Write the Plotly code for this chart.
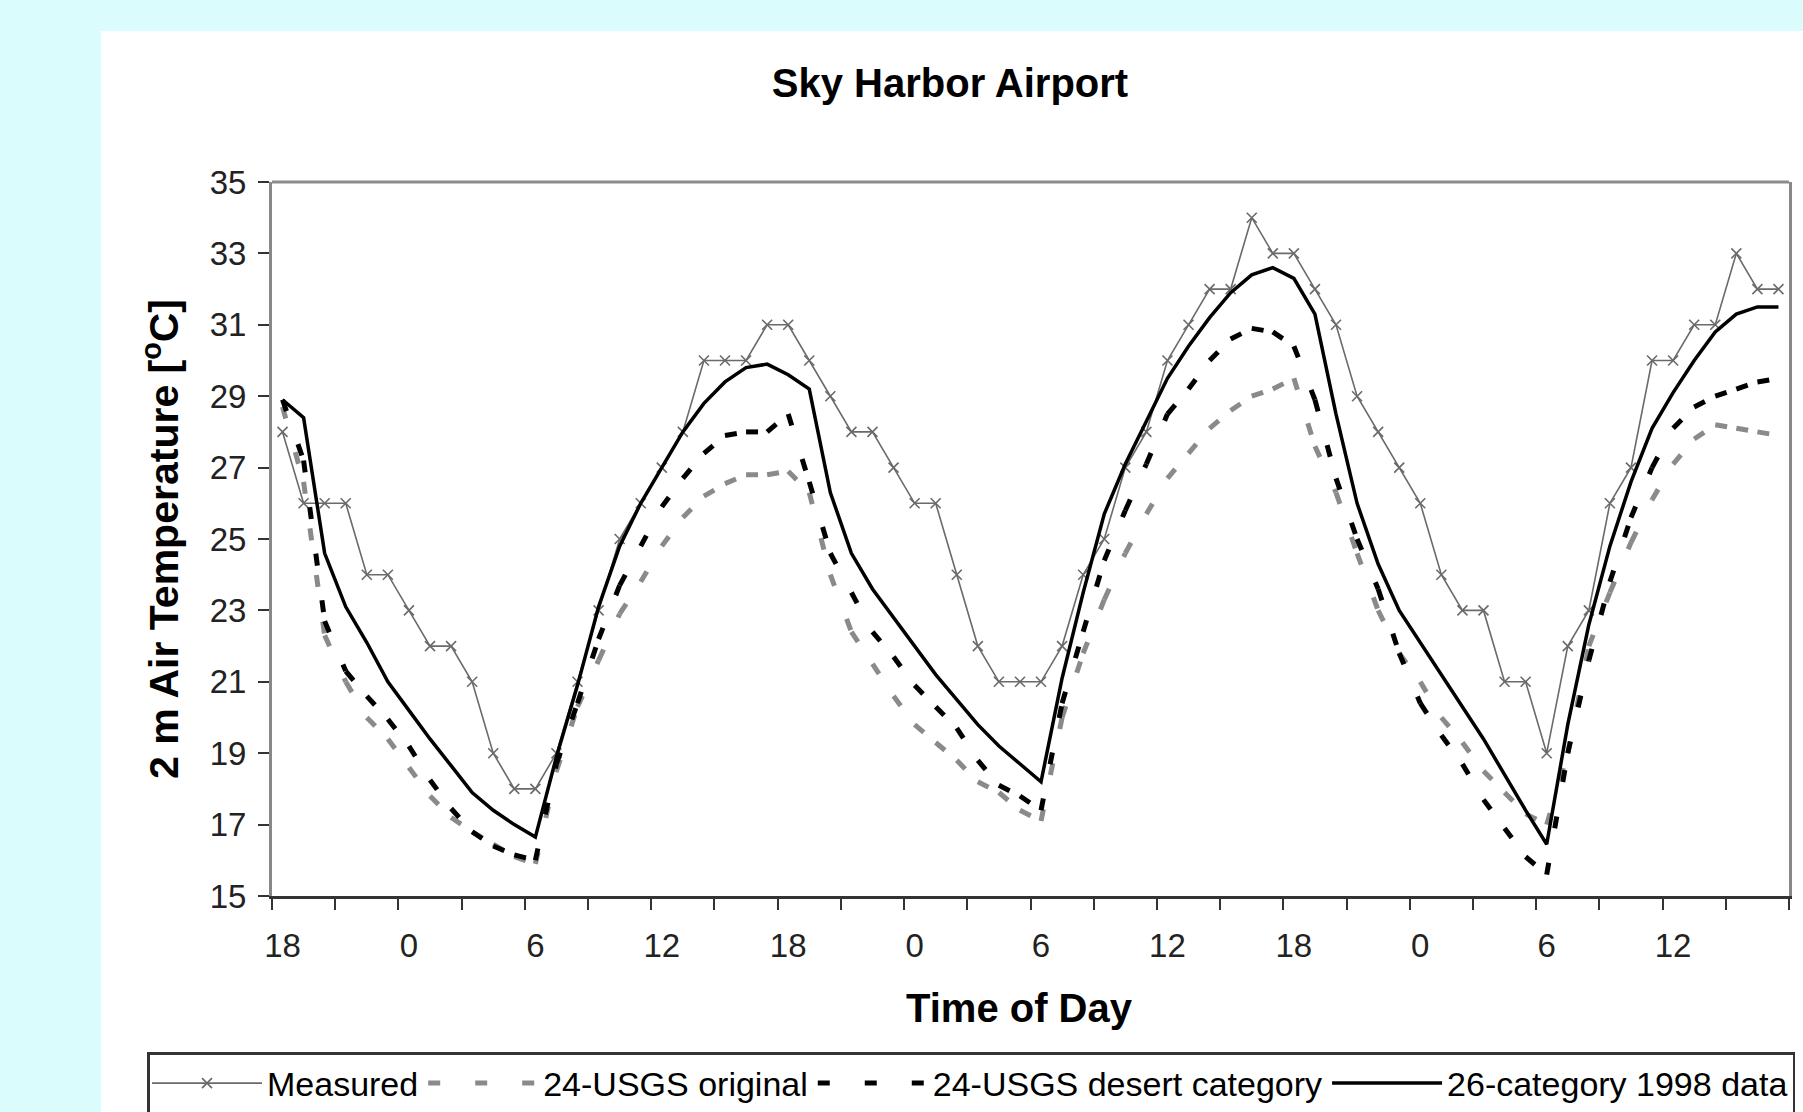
import plotly.graph_objects as go

# ---------------- data (hourly, starting 18:00) ----------------
hour_tick_labels = ["18", "0", "6", "12", "18", "0", "6", "12", "18", "0", "6", "12"]
hour_tick_index = [0, 6, 12, 18, 24, 30, 36, 42, 48, 54, 60, 66]

measured = [28, 26, 26, 26, 24, 24, 23, 22, 22, 21, 19, 18, 18, 19, 21, 23, 25, 26,
            27, 28, 30, 30, 30, 31, 31, 30, 29, 28, 28, 27, 26, 26, 24, 22, 21, 21,
            21, 22, 24, 25, 27, 28, 30, 31, 32, 32, 34, 33, 33, 32, 31, 29, 28, 27,
            26, 24, 23, 23, 21, 21, 19, 22, 23, 26, 27, 30, 30, 31, 31, 33, 32, 32]

usgs_original = [28.7, 26.6, 22.3, 21.0, 20.0, 19.4, 18.6, 17.8, 17.2, 16.8, 16.45, 16.1,
                 15.9, 18.5, 20.3, 21.6, 22.9, 23.8, 24.8, 25.6, 26.2, 26.55, 26.8, 26.8,
                 26.9, 26.3, 24.0, 22.4, 21.5, 20.6, 19.8, 19.3, 18.8, 18.2, 17.9, 17.4,
                 17.1, 20.0, 21.8, 23.3, 24.6, 25.7, 26.7, 27.4, 28.1, 28.6, 29.0, 29.2,
                 29.5, 27.6, 26.3, 24.6, 23.0, 21.8, 21.0, 20.0, 19.3, 18.5, 17.9, 17.3,
                 17.0, 19.0, 22.0, 23.5, 24.9, 26.1, 27.1, 27.8, 28.2, 28.1, 28.0, 27.9]

usgs_desert = [28.9, 27.2, 22.7, 21.3, 20.6, 19.95, 19.2, 18.25, 17.45, 16.8, 16.4, 16.15,
               16.0, 18.7, 20.4, 22.2, 23.7, 24.8, 25.9, 26.7, 27.4, 27.9, 28.0, 28.0,
               28.5, 26.6, 24.6, 23.5, 22.4, 21.7, 20.9, 20.3, 19.7, 18.8, 18.1, 17.8,
               17.4, 20.4, 22.4, 24.4, 25.8, 27.1, 28.5, 29.2, 30.0, 30.6, 30.9, 30.8,
               30.4, 28.9, 26.7, 25.0, 23.6, 21.8, 20.4, 19.5, 18.7, 17.7, 16.9, 16.1,
               15.6, 19.0, 21.6, 23.8, 25.6, 27.0, 28.1, 28.7, 29.0, 29.2, 29.4, 29.5]

cat26_1998 = [28.9, 28.4, 24.6, 23.1, 22.1, 21.0, 20.2, 19.4, 18.65, 17.9, 17.4, 17.0,
              16.65, 18.9, 20.9, 23.1, 24.8, 26.0, 27.0, 28.0, 28.8, 29.4, 29.8, 29.9,
              29.6, 29.2, 26.3, 24.6, 23.6, 22.8, 22.0, 21.2, 20.5, 19.8, 19.2, 18.7,
              18.2, 21.1, 23.5, 25.7, 27.1, 28.3, 29.5, 30.4, 31.2, 31.9, 32.4, 32.6,
              32.3, 31.3, 28.5, 26.0, 24.3, 23.0, 22.1, 21.2, 20.3, 19.4, 18.4, 17.4,
              16.45, 19.8, 22.6, 24.8, 26.6, 28.1, 29.1, 30.0, 30.8, 31.3, 31.5, 31.5]

series_names = ["Measured", "24-USGS original", "24-USGS desert category", "26-category 1998 data"]

# ---------------- figure ----------------
W, H = 1803, 1112
ML, MR, MT, MB = 272, 14, 182, 216
PW, PH = W - ML - MR, H - MT - MB
FONT = "Liberation Sans, Arial, sans-serif"

x = list(range(len(measured)))
fig = go.Figure()

fig.add_trace(go.Scatter(
    x=x, y=measured, mode="lines+markers", name=series_names[0],
    line=dict(color="#6a6a6a", width=1.6),
    marker=dict(symbol="x-thin", size=10, line=dict(width=1.6, color="#6a6a6a")),
    legendgroup="m"))

# dashed model series: Excel restarts the dash pattern at every vertex,
# so each hourly segment is drawn separately
def add_dashed(values, name, color, group):
    for i in range(len(values) - 1):
        fig.add_trace(go.Scatter(
            x=[x[i], x[i + 1]], y=[values[i], values[i + 1]], mode="lines",
            name=name, legendgroup=group, showlegend=(i == 0),
            line=dict(color=color, width=5, dash="12px,35px"),
            hoverinfo="skip" if i else None))

add_dashed(usgs_original, series_names[1], "#8a8a8a", "o")
add_dashed(usgs_desert, series_names[2], "#000000", "d")

fig.add_trace(go.Scatter(
    x=x, y=cat26_1998, mode="lines", name=series_names[3],
    line=dict(color="#000000", width=3.5), legendgroup="s"))

def px_x(p):
    return (p - ML) / PW

def px_y(p):
    return (H - MB - p) / PH

shapes = [
    # white chart panel on the cyan page
    dict(type="rect", xref="paper", yref="paper", x0=px_x(101), x1=px_x(W + 5),
         y0=px_y(H + 5), y1=px_y(31), fillcolor="white", line=dict(width=0), layer="below"),
    # top border of the plot area
    dict(type="line", xref="paper", yref="paper", x0=0, x1=1, y0=1, y1=1,
         line=dict(color="#8c8c8c", width=3), layer="above"),
]

annotations = [
    dict(text="<b>Time of Day</b>", xref="paper", yref="paper",
         x=px_x(1019), y=px_y(1008), xanchor="center", yanchor="middle", showarrow=False,
         font=dict(size=40, family=FONT, color="#000")),
]

minor_ticks = [-0.5 + 3 * k for k in range(25)]

fig.update_layout(
    width=W, height=H,
    margin=dict(l=ML, r=MR, t=MT, b=MB, pad=0, autoexpand=False),
    paper_bgcolor="#dafcfc", plot_bgcolor="white",
    font=dict(family=FONT, color="#000000"),
    shapes=shapes, annotations=annotations,
    title=dict(text="<b>Sky Harbor Airport</b>", x=950 / W, xref="container", xanchor="center",
               y=1 - 83 / H, yref="container", yanchor="middle",
               font=dict(size=40, family=FONT, color="#000")),
    xaxis=dict(
        range=[-0.5, len(measured) - 0.5], tickmode="array",
        tickvals=hour_tick_index, ticktext=hour_tick_labels,
        ticks="outside", ticklen=12, tickcolor="rgba(0,0,0,0)",
        ticklabelstandoff=6,
        tickfont=dict(size=33, color="#222", family=FONT),
        minor=dict(tickmode="array", tickvals=minor_ticks, ticks="outside",
                   ticklen=11, tickwidth=2, tickcolor="#333", showgrid=False),
        showline=True, linecolor="#333", linewidth=3, mirror=False,
        showgrid=False, zeroline=False),
    yaxis=dict(
        range=[15, 35], tick0=15, dtick=2,
        ticks="outside", ticklen=11, tickwidth=2, tickcolor="#333",
        tickfont=dict(size=33, color="#222", family=FONT),
        ticklabelstandoff=5,
        showline=True, linecolor="#888", linewidth=3, mirror=True,
        showgrid=False, zeroline=False,
        title=dict(text="<b>2 m Air Temperature [<sup>o</sup>C]</b>", standoff=19,
                   font=dict(size=41, family=FONT, color="#000"))),
    legend=dict(orientation="h", x=px_x(147), xanchor="left", y=px_y(1052), yanchor="top",
                bgcolor="white", bordercolor="#333", borderwidth=2.5,
                font=dict(size=34, family=FONT, color="#000"),
                itemwidth=110, tracegroupgap=0),
    showlegend=True,
)

fig.write_html("out.html", post_script="document.body.style.margin='0';",
               config={"displayModeBar": False})
